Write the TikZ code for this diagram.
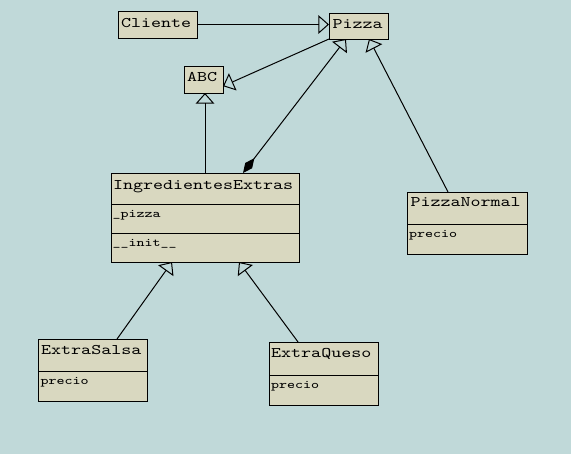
\documentclass[tikz,border=0pt]{standalone}
\usepackage{fontspec}
\usetikzlibrary{arrows.meta}
\newfontfamily\umlfont[FakeStretch=1.3]{Latin Modern Mono}
\definecolor{bgcol}{RGB}{192,217,217}
\definecolor{boxcol}{RGB}{217,216,192}
\tikzset{every picture/.style={line width=0.75pt}}

\begin{document}
\begin{tikzpicture}[x=0.75pt,y=0.75pt,yscale=-1,xscale=1,
  classbox/.style={draw, fill=boxcol, anchor=north west, inner sep=0pt, outer sep=0pt},
  clsname/.style={anchor=base west, inner sep=0pt, font=\umlfont\fontsize{11}{12}\selectfont},
  attrtxt/.style={anchor=base west, inner sep=0pt, font=\umlfont\fontsize{8.8}{10}\selectfont},
  inh/.style={-{Triangle[open,length=8pt,width=14pt]}},
  comp/.style={{Diamond[length=14pt,width=6.5pt]}-{Triangle[open,length=8pt,width=14pt]}}]
%set diagram to 571 x 454
\fill[bgcol] (0,0) rectangle (571,454);
\useasboundingbox (0,0) rectangle (571,454);

%Class: Cliente
\node[classbox, minimum width=59.25pt, minimum height=20.25pt] (cliente) at (118,11) {};
%Class: Pizza
\node[classbox, minimum width=44.25pt, minimum height=19.5pt] (pizza) at (329,13) {};
%Class: ABC
\node[classbox, minimum width=29.25pt, minimum height=20.25pt] (abc) at (184,66) {};
%Class: IngredientesExtras
\node[classbox, minimum width=141pt, minimum height=23.25pt] (ie) at (111,173) {};
\node[classbox, minimum width=141pt, minimum height=21.75pt] (ie-attr) at (111,204) {};
\node[classbox, minimum width=141pt, minimum height=21.75pt] (ie-ops) at (111,233) {};
%Class: PizzaNormal
\node[classbox, minimum width=90pt, minimum height=24pt] (pn) at (407,192) {};
\node[classbox, minimum width=90pt, minimum height=22.5pt] (pn-attr) at (407,224) {};
%Class: ExtraSalsa
\node[classbox, minimum width=81.75pt, minimum height=24pt] (es) at (38,339) {};
\node[classbox, minimum width=81.75pt, minimum height=22.5pt] (es-attr) at (38,371) {};
%Class: ExtraQueso
\node[classbox, minimum width=81.75pt, minimum height=24.75pt] (eq) at (269,342) {};
\node[classbox, minimum width=81.75pt, minimum height=22.5pt] (eq-attr) at (269,375) {};

%Arrows
\draw[inh] (cliente.east) -- (cliente.east -| pizza.west);
\draw[inh] (pizza.south west) -- ([yshift=5pt]abc.east);
\draw[inh] (ie.north) -- (ie.north |- abc.south);
\draw[comp] ([xshift=28.5pt]ie.north) -- ([xshift=-9.4pt]pizza.south);
\draw[inh] ([xshift=-14.25pt]pn.north) -- ([xshift=7.9pt]pizza.south);
\draw[inh] ([xshift=18.4pt]es.north) -- ([xshift=-24.75pt]ie-ops.south);
\draw[inh] ([xshift=-19.1pt]eq.north) -- ([xshift=25.5pt]ie-ops.south);

% Text Node
\node[clsname] (cliente-t) at (120.5,27.5) {Cliente};
% Text Node
\node[clsname] (pizza-t) at (332,28.5) {Pizza};
% Text Node
\node[clsname] (abc-t) at (186.5,81) {ABC};
% Text Node
\node[clsname] (ie-t) at (112.5,189.3) {IngredientesExtras};
% Text Node
\node[attrtxt] (ie-attr-t) at (112,217.7) {\_pizza};
% Text Node
\node[attrtxt] (ie-ops-t) at (112,246.7) {\_\_init\_\_};
% Text Node
\node[clsname] (pn-t) at (410,206.7) {PizzaNormal};
% Text Node
\node[attrtxt] (pn-attr-t) at (408.7,237.7) {precio};
% Text Node
\node[clsname] (es-t) at (40.7,354) {ExtraSalsa};
% Text Node
\node[attrtxt] (es-attr-t) at (40,384.7) {precio};
% Text Node
\node[clsname] (eq-t) at (270.7,357.7) {ExtraQueso};
% Text Node
\node[attrtxt] (eq-attr-t) at (270.7,388.7) {precio};

\end{tikzpicture}
\end{document}
